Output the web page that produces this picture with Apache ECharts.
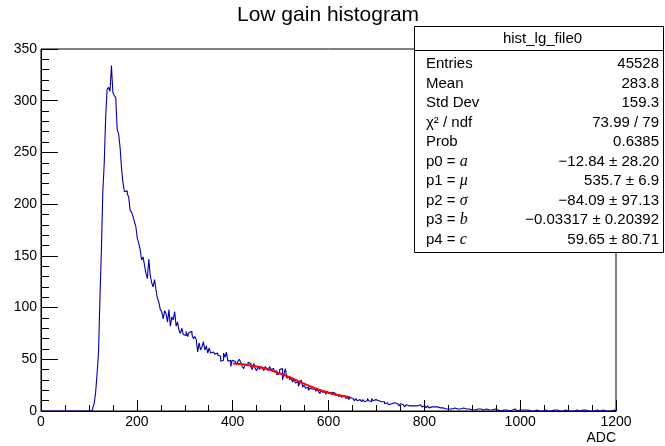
<!DOCTYPE html>
<html><head><meta charset="utf-8">
<script src="https://cdn.jsdelivr.net/npm/echarts@6/dist/echarts.min.js"></script>
<style>html,body{margin:0;padding:0;background:#fff}#c{width:665px;height:446px}</style>
</head><body><div id="c"></div>
<script>
// ---- data ----
const histStart = 0;      // ADC of first bin's lower edge
const binWidth = 3;       // ADC per bin
const counts = [
  0,0,0,0,0,0,0,0,0,0,
  0,0,0,0,0,0,0,0,0,0,
  0,0,0,0,0,0,0,0,0,0,
  0,0,0,0,1,1,3,7,18,36,
  56,109,155,212,240,285,311,313,309,334,
  308,305,303,272,268,255,235,221,212,213,
  210,207,194,192,188,183,178,167,162,156,
  146,149,141,133,128,147,131,124,120,127,
  117,109,105,98,96,89,97,94,86,98,
  82,91,88,96,82,86,78,75,80,74,
  73,77,72,76,77,74,70,72,69,57,
  66,59,62,67,59,63,56,61,56,57,
  56,55,56,54,53,48,49,56,52,57,
  48,49,43,49,48,49,45,48,50,47,
  43,41,45,44,47,46,43,40,46,41,
  39,43,40,43,41,39,43,41,39,43,
  40,41,38,39,35,36,40,41,30,36,
  41,32,33,30,32,28,31,27,28,24,
  27,30,23,25,22,23,20,22,21,20,
  21,19,21,19,17,20,18,19,16,19,
  17,18,16,18,17,15,16,14,15,13,
  15,14,12,13,11,13,12,11,10,12,
  10,11,10,9,11,9,10,12,10,9,
  12,10,11,12,10,11,9,8,9,7,
  8,7,6,7,6,8,7,7,6,5,
  7,6,5,4,6,5,4,5,6,5,
  4,5,4,6,5,4,5,4,3,5,
  3,4,3,4,3,4,3,3,2,3,
  3,2,3,2,3,2,2,3,2,2,
  1,2,2,3,3,2,1,2,2,1,
  2,1,1,2,1,2,1,1,1,2,
  1,1,2,1,1,2,1,1,1,0,
  1,1,2,1,1,0,1,1,1,2,
  1,0,1,1,1,0,1,0,1,1,
  0,1,0,0,1,1,0,1,0,1,
  1,0,0,1,0,1,1,0,1,0,
  0,1,0,1,1,0,0,1,0,1,
  0,0,1,1,0,0,1,0,1,0,
  0,1,0,1,0,0,1,1,0,0,
  1,0,0,1,0,1,0,0,1,0
];
// fit curve
const fitX = [401, 410, 420, 430, 440, 450, 460, 470, 480, 490, 500, 510, 520, 530, 540, 550, 560, 570, 580, 590, 600, 610, 620, 630, 645];
const fitY = [46, 45.7, 45.2, 44.6, 43.8, 43, 42, 40.8, 39.3, 37.7, 36, 34.3, 32.4, 30.3, 28.2, 26.2, 24.2, 22.4, 20.6, 19.1, 17.7, 16.5, 15.4, 14.5, 13.4];

const chartTitle = 'Low gain histogram';
const xName = 'ADC';
const statsName = 'hist_lg_file0';
const statLabels = ['Entries', 'Mean', 'Std Dev', 'χ² / ndf', 'Prob', 'p0', 'p1', 'p2', 'p3', 'p4'];
const statSymbols = ['', '', '', '', '', 'a', 'μ', 'σ', 'b', 'c'];
const statValues = ['45528', '283.8', '159.3', '73.99 / 79', '0.6385',
  '−12.84 ± 28.20', '535.7 ± 6.9', '−84.09 ± 97.13', '−0.03317 ± 0.20392', '59.65 ± 80.71'];

// ---- build series ----
const histData = counts.map((v, i) => [histStart + i * binWidth, v]);
histData.push([histStart + counts.length * binWidth, counts[counts.length - 1]]);
const fitData = fitX.map((x, i) => [x, fitY[i]]);

const FONT = '"Liberation Sans", Arial, Helvetica, sans-serif';
const SERIF = '"Liberation Serif", "Times New Roman", serif';

// stats box graphics
const box = { l: 414, t: 26, w: 249, h: 226, head: 24, row0: 64, rowStep: 19.5, lx: 426, rx: 659 };
const graphics = [
  { type: 'rect', shape: { x: box.l + 0.5, y: box.t + 0.5, width: box.w, height: box.h },
    style: { fill: '#fff', stroke: '#000', lineWidth: 1 }, z: 10 },
  { type: 'line', shape: { x1: box.l + 0.5, y1: box.t + box.head + 0.5, x2: box.l + box.w + 0.5, y2: box.t + box.head + 0.5 },
    style: { stroke: '#000', lineWidth: 1 }, z: 11 },
  { type: 'text', x: box.l + box.w / 2 + 4, y: box.t + box.head / 2 + 1,
    style: { text: statsName, font: '15px ' + FONT, fill: '#000', align: 'center', verticalAlign: 'middle' }, z: 11 }
];
statLabels.forEach((lab, i) => {
  const y = box.row0 + i * box.rowStep;
  const sym = statSymbols[i];
  graphics.push({ type: 'text', x: box.lx, y: y,
    style: sym ? {
      text: '{s|' + lab + ' = }{m|' + sym + '}',
      rich: { s: { font: '15px ' + FONT, fill: '#000' }, m: { font: 'italic 16px ' + SERIF, fill: '#000' } },
      align: 'left', verticalAlign: 'middle'
    } : { text: lab, font: '15px ' + FONT, fill: '#000', align: 'left', verticalAlign: 'middle' }, z: 11 });
  graphics.push({ type: 'text', x: box.rx, y: y,
    style: { text: statValues[i], font: '15px ' + FONT, fill: '#000', align: 'right', verticalAlign: 'middle' }, z: 11 });
});

const chart = echarts.init(document.getElementById('c'), null, { renderer: 'canvas' });
chart.setOption({
  animation: false,
  backgroundColor: '#fff',
  title: { text: chartTitle, left: 237, top: 5, padding: 0,
    textStyle: { fontFamily: FONT, fontSize: 21, fontWeight: 'normal', color: '#000' } },
  grid: { left: 41, right: 49, top: 49, bottom: 35, show: true, borderColor: '#000', borderWidth: 1, backgroundColor: 'transparent' },
  xAxis: {
    type: 'value', min: 0, max: 1200, interval: 200,
    name: xName, nameLocation: 'end', nameGap: 0,
    nameTextStyle: { fontFamily: FONT, fontSize: 14, color: '#000', align: 'right', verticalAlign: 'top', padding: [20, 0, 0, 0] },
    axisLine: { show: true, onZero: false, lineStyle: { color: '#000', width: 1 } },
    axisTick: { show: true, inside: true, length: 11, lineStyle: { color: '#000' } },
    minorTick: { show: true, splitNumber: 4, length: 6, lineStyle: { color: '#000' } },
    axisLabel: { fontFamily: FONT, fontSize: 14, color: '#000', margin: 4, showMinLabel: true, showMaxLabel: true,
      formatter: v => String(v) },
    splitLine: { show: false }
  },
  yAxis: {
    type: 'value', min: 0, max: 350, interval: 50,
    axisLine: { show: true, lineStyle: { color: '#000', width: 1 } },
    axisTick: { show: true, inside: true, length: 17, lineStyle: { color: '#000' } },
    minorTick: { show: true, splitNumber: 5, length: 8, lineStyle: { color: '#000' } },
    axisLabel: { fontFamily: FONT, fontSize: 14, color: '#000', margin: 4, showMinLabel: true, showMaxLabel: true,
      formatter: v => String(v) },
    splitLine: { show: false }
  },
  series: [
    { type: 'line', name: 'hist', data: histData, step: 'end', symbol: 'none',
      lineStyle: { color: '#0000a8', width: 1.1 }, z: 3 },
    { type: 'line', name: 'fit', data: fitData, smooth: 0.3, symbol: 'none',
      lineStyle: { color: '#ff0000', width: 2 }, z: 4 }
  ],
  graphic: graphics
});
</script>
</body></html>
